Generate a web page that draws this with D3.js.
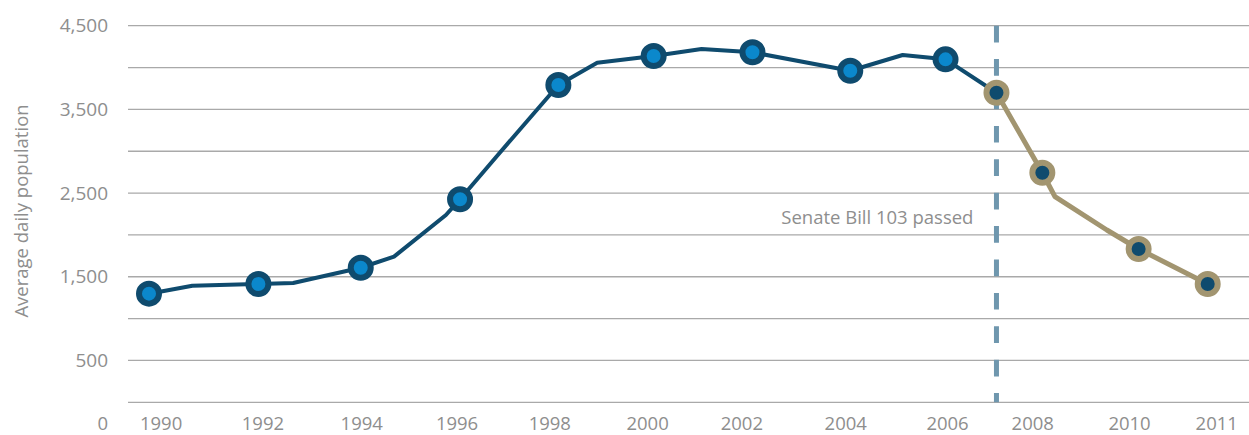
<!DOCTYPE html>
<html>
<head>
<meta charset="utf-8">
<script src="https://cdnjs.cloudflare.com/ajax/libs/d3/7.8.5/d3.min.js"></script>
<style>
  html, body { margin: 0; padding: 0; background: #ffffff; }
  svg { display: block; }
  text { font-family: "Open Sans", sans-serif; }
</style>
</head>
<body>
<svg id="chart" width="1249" height="435"></svg>
<script>
// ---- data ----
// Pre-reform series: decimal position on the time axis, average daily population
const preYears   = [1990.00, 1990.86, 1992.17, 1992.86, 1994.20, 1994.86, 1995.89, 1996.17, 1996.89, 1998.12, 1998.89, 2000.01, 2000.96, 2001.97, 2003.91, 2004.95, 2005.80, 2006.81];
const preValues  = [1298,    1393,    1414,    1426,    1608,    1740,    2238,    2426,    2935,    3791,    4058,    4138,    4222,    4182,    3962,    4150,    4098,    3699];
const preMarked  = [true,    false,   true,    false,   true,    false,   false,   true,    false,   true,    false,   true,    false,   true,    true,    false,   true,    false];

// Post-reform series
const postYears  = [2006.81, 2007.72, 2007.97, 2009.00, 2009.63, 2011.00];
const postValues = [3699,    2743,    2457,    2059,    1832,    1414];
const postMarked = [true,    true,    false,   false,   true,    true];

// Axis labels
const xTickLabels = ["1990","1992","1994","1996","1998","2000","2002","2004","2006","2008","2010","2011"];
const xTickAt     = [1990.24, 1992.26, 1994.22, 1996.11, 1997.95, 1999.89, 2001.76, 2003.82, 2005.84, 2007.53, 2009.45, 2011.18];
const yGridValues = [0, 500, 1000, 1500, 2000, 2500, 3000, 3500, 4000, 4500];
const yLabelValues = [500, 1500, 2500, 3500, 4500];
const yTitle = "Average daily population";

const billYear = 2006.81;
const billLabel = "Senate Bill 103 passed";
const billLabelValue = 2125;

// ---- drawing ----
const svg = d3.select("#chart");
const W = 1249, H = 435;

const x = d3.scaleLinear().domain([1990, 2011]).range([149, 1207.7]);
const y = d3.scaleLinear().domain([0, 4500]).range([402.3, 25.7]);

const gridLeft = 128;
const fmt = d3.format(",");
const labelBaseline = 429.5;

// gridlines
svg.append("g").selectAll("line").data(yGridValues).join("line")
  .attr("x1", gridLeft).attr("x2", W)
  .attr("y1", d => y(d)).attr("y2", d => y(d))
  .attr("stroke", "#a9a9a9").attr("stroke-width", 1.3);

// y labels
svg.append("g").selectAll("text").data(yLabelValues).join("text")
  .attr("x", 108).attr("y", d => y(d))
  .attr("dy", "0.35em")
  .attr("text-anchor", "end")
  .attr("font-size", 19).attr("fill", "#8e8e8e")
  .text(d => fmt(d));

// zero label sits on the year-label row
svg.append("text")
  .attr("x", 108).attr("y", labelBaseline)
  .attr("text-anchor", "end")
  .attr("font-size", 18.5).attr("fill", "#8e8e8e")
  .text(fmt(0));

// x labels
svg.append("g").selectAll("text").data(xTickLabels).join("text")
  .attr("x", (d, i) => x(xTickAt[i])).attr("y", labelBaseline)
  .attr("text-anchor", "middle")
  .attr("font-size", 18.5).attr("fill", "#8e8e8e")
  .text(d => d);

// y title
svg.append("text")
  .attr("transform", `translate(28, ${(y(0) + y(4500)) / 2 - 3}) rotate(-90)`)
  .attr("text-anchor", "middle")
  .attr("font-size", 18.5).attr("fill", "#8e8e8e")
  .text(yTitle);

// dashed reform marker
svg.append("line")
  .attr("x1", x(billYear)).attr("x2", x(billYear))
  .attr("y1", y(4500)).attr("y2", y(0))
  .attr("stroke", "#6f97ae").attr("stroke-width", 5)
  .attr("stroke-dasharray", "16.7 16.7");

svg.append("text")
  .attr("x", x(billYear) - 23).attr("y", y(billLabelValue))
  .attr("text-anchor", "end")
  .attr("font-size", 18.5).attr("fill", "#8e8e8e")
  .text(billLabel);

const line = d3.line().x(d => x(d[0])).y(d => y(d[1]));
const pre = preYears.map((t, i) => [t, preValues[i], preMarked[i]]);
const post = postYears.map((t, i) => [t, postValues[i], postMarked[i]]);

svg.append("path").datum(pre)
  .attr("d", line).attr("fill", "none")
  .attr("stroke", "#0f4b6e").attr("stroke-width", 4)
  .attr("stroke-linejoin", "round");

svg.append("path").datum(post)
  .attr("d", line).attr("fill", "none")
  .attr("stroke", "#a29570").attr("stroke-width", 5)
  .attr("stroke-linejoin", "round");

svg.append("g").selectAll("circle").data(pre.filter(d => d[2])).join("circle")
  .attr("cx", d => x(d[0])).attr("cy", d => y(d[1]))
  .attr("r", 10)
  .attr("fill", "#0b88cc").attr("stroke", "#0f4b6e").attr("stroke-width", 6);

svg.append("g").selectAll("circle").data(post.filter(d => d[2])).join("circle")
  .attr("cx", d => x(d[0])).attr("cy", d => y(d[1]))
  .attr("r", 10)
  .attr("fill", "#0f4b6e").attr("stroke", "#a29570").attr("stroke-width", 6);
</script>
</body>
</html>
